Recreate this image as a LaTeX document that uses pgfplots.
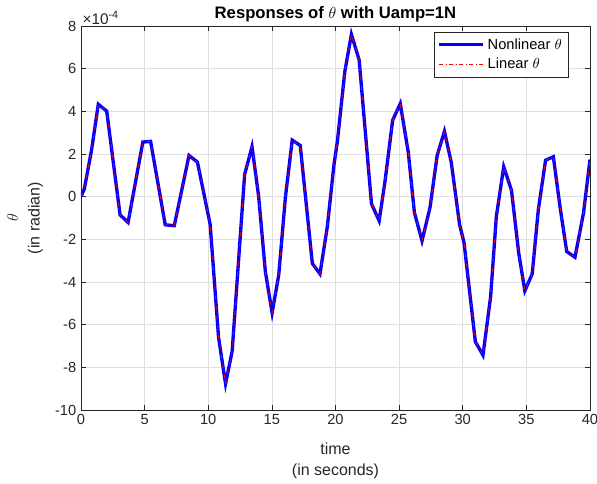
\documentclass[border=0pt]{standalone}
\usepackage{pgfplots}
\usepackage{pgfplotstable}
\pgfplotsset{compat=1.18}
\usepackage{fontspec}
\setmainfont{Liberation Sans}
\definecolor{axgray}{RGB}{38,38,38}
\definecolor{gridgray}{RGB}{222,222,222}

% theta response, in units of 1e-4 rad
\pgfplotstableread{
t      th
0      0
0.26   0.36
0.82   2.15
1.36   4.33
2.02   4.01
3.07  -0.85
3.70  -1.21
4.86   2.56
5.47   2.59
6.62  -1.32
7.33  -1.36
8.49   1.93
9.15   1.62
10.15 -1.30
10.81 -6.60
11.36 -8.77
11.88 -7.24
12.86  1.04
13.44  2.34
13.96  0.01
14.49 -3.52
15.02 -5.44
15.54 -3.67
16.07  0.01
16.60  2.65
17.23  2.40
18.18 -3.13
18.78 -3.62
19.36 -1.40
19.88  1.50
20.15  2.60
20.73  5.85
21.25  7.61
21.86  6.40
22.83 -0.34
23.43 -1.13
23.88  0.67
24.49  3.58
25.09  4.36
25.72  2.08
26.20 -0.74
26.80 -2.07
27.43 -0.50
27.99  1.93
28.56  3.06
29.10  1.60
29.75 -1.30
30.10 -2.15
30.99 -6.80
31.59 -7.43
32.19 -4.69
32.64 -0.93
33.22  1.40
33.83  0.30
34.40 -2.65
34.88 -4.41
35.46 -3.62
35.94 -0.61
36.51  1.71
37.12  1.87
37.64 -0.46
38.17 -2.57
38.82 -2.84
39.49 -0.77
40.00  1.74
}\thetadata

\begin{document}
\begin{tikzpicture}
\path[use as bounding box] (-60.75pt,-55.5pt) rectangle (387pt,307.5pt);
\begin{axis}[
  scale only axis, width=381.75pt, height=288pt,
  xmin=0, xmax=40, ymin=-10, ymax=8,
  xtick={0,5,...,40}, ytick={-10,-8,...,8},
  tick align=inside, major tick length=4pt,
  grid=major, major grid style={gridgray, line width=0.5pt},
  axis line style={axgray, line width=0.5pt},
  tick style={axgray, line width=0.5pt},
  ticklabel style={font=\fontsize{11}{13}\selectfont, text=axgray},
  /pgf/number format/assume math mode=true,
  xlabel={time\\(in seconds)},
  xlabel style={font=\fontsize{12}{16}\selectfont, text=axgray, align=center,
    at={(axis description cs:0.5,-0.133)}, anchor=center},
  ylabel={$\theta$\\(in radian)},
  ylabel style={font=\fontsize{12}{16}\selectfont, text=axgray, align=center,
    at={(axis description cs:-0.11,0.5)}, anchor=center},
  legend cell align=left,
  legend style={at={(rel axis cs:0.957,0.984)}, anchor=north east,
    draw=axgray, fill=white, font=\fontsize{11}{13}\selectfont,
    inner sep=2.5pt, row sep=1.5pt},
  legend image code/.code={\draw[#1] (0pt,0pt) -- (33pt,0pt);},
  clip mode=individual,
]
\addplot[blue, line width=2.5pt] table[x=t, y=th] {\thetadata};
\addlegendentry{Nonlinear $\theta$}
\addplot[red, dash dot, line width=0.6pt] table[x=t, y=th] {\thetadata};
\addlegendentry{Linear $\theta$}
\node[anchor=south west, font=\fontsize{11.5}{13}\selectfont, text=axgray,
  inner sep=1pt] at (rel axis cs:0,1) {×10\textsuperscript{-4}};
\node[font=\bfseries\fontsize{12.5}{15}\selectfont, anchor=center,
  yshift=8.5pt] at (rel axis cs:0.5,1) {Responses of $\theta$ with Uamp=1N};
\end{axis}
\end{tikzpicture}
\end{document}
